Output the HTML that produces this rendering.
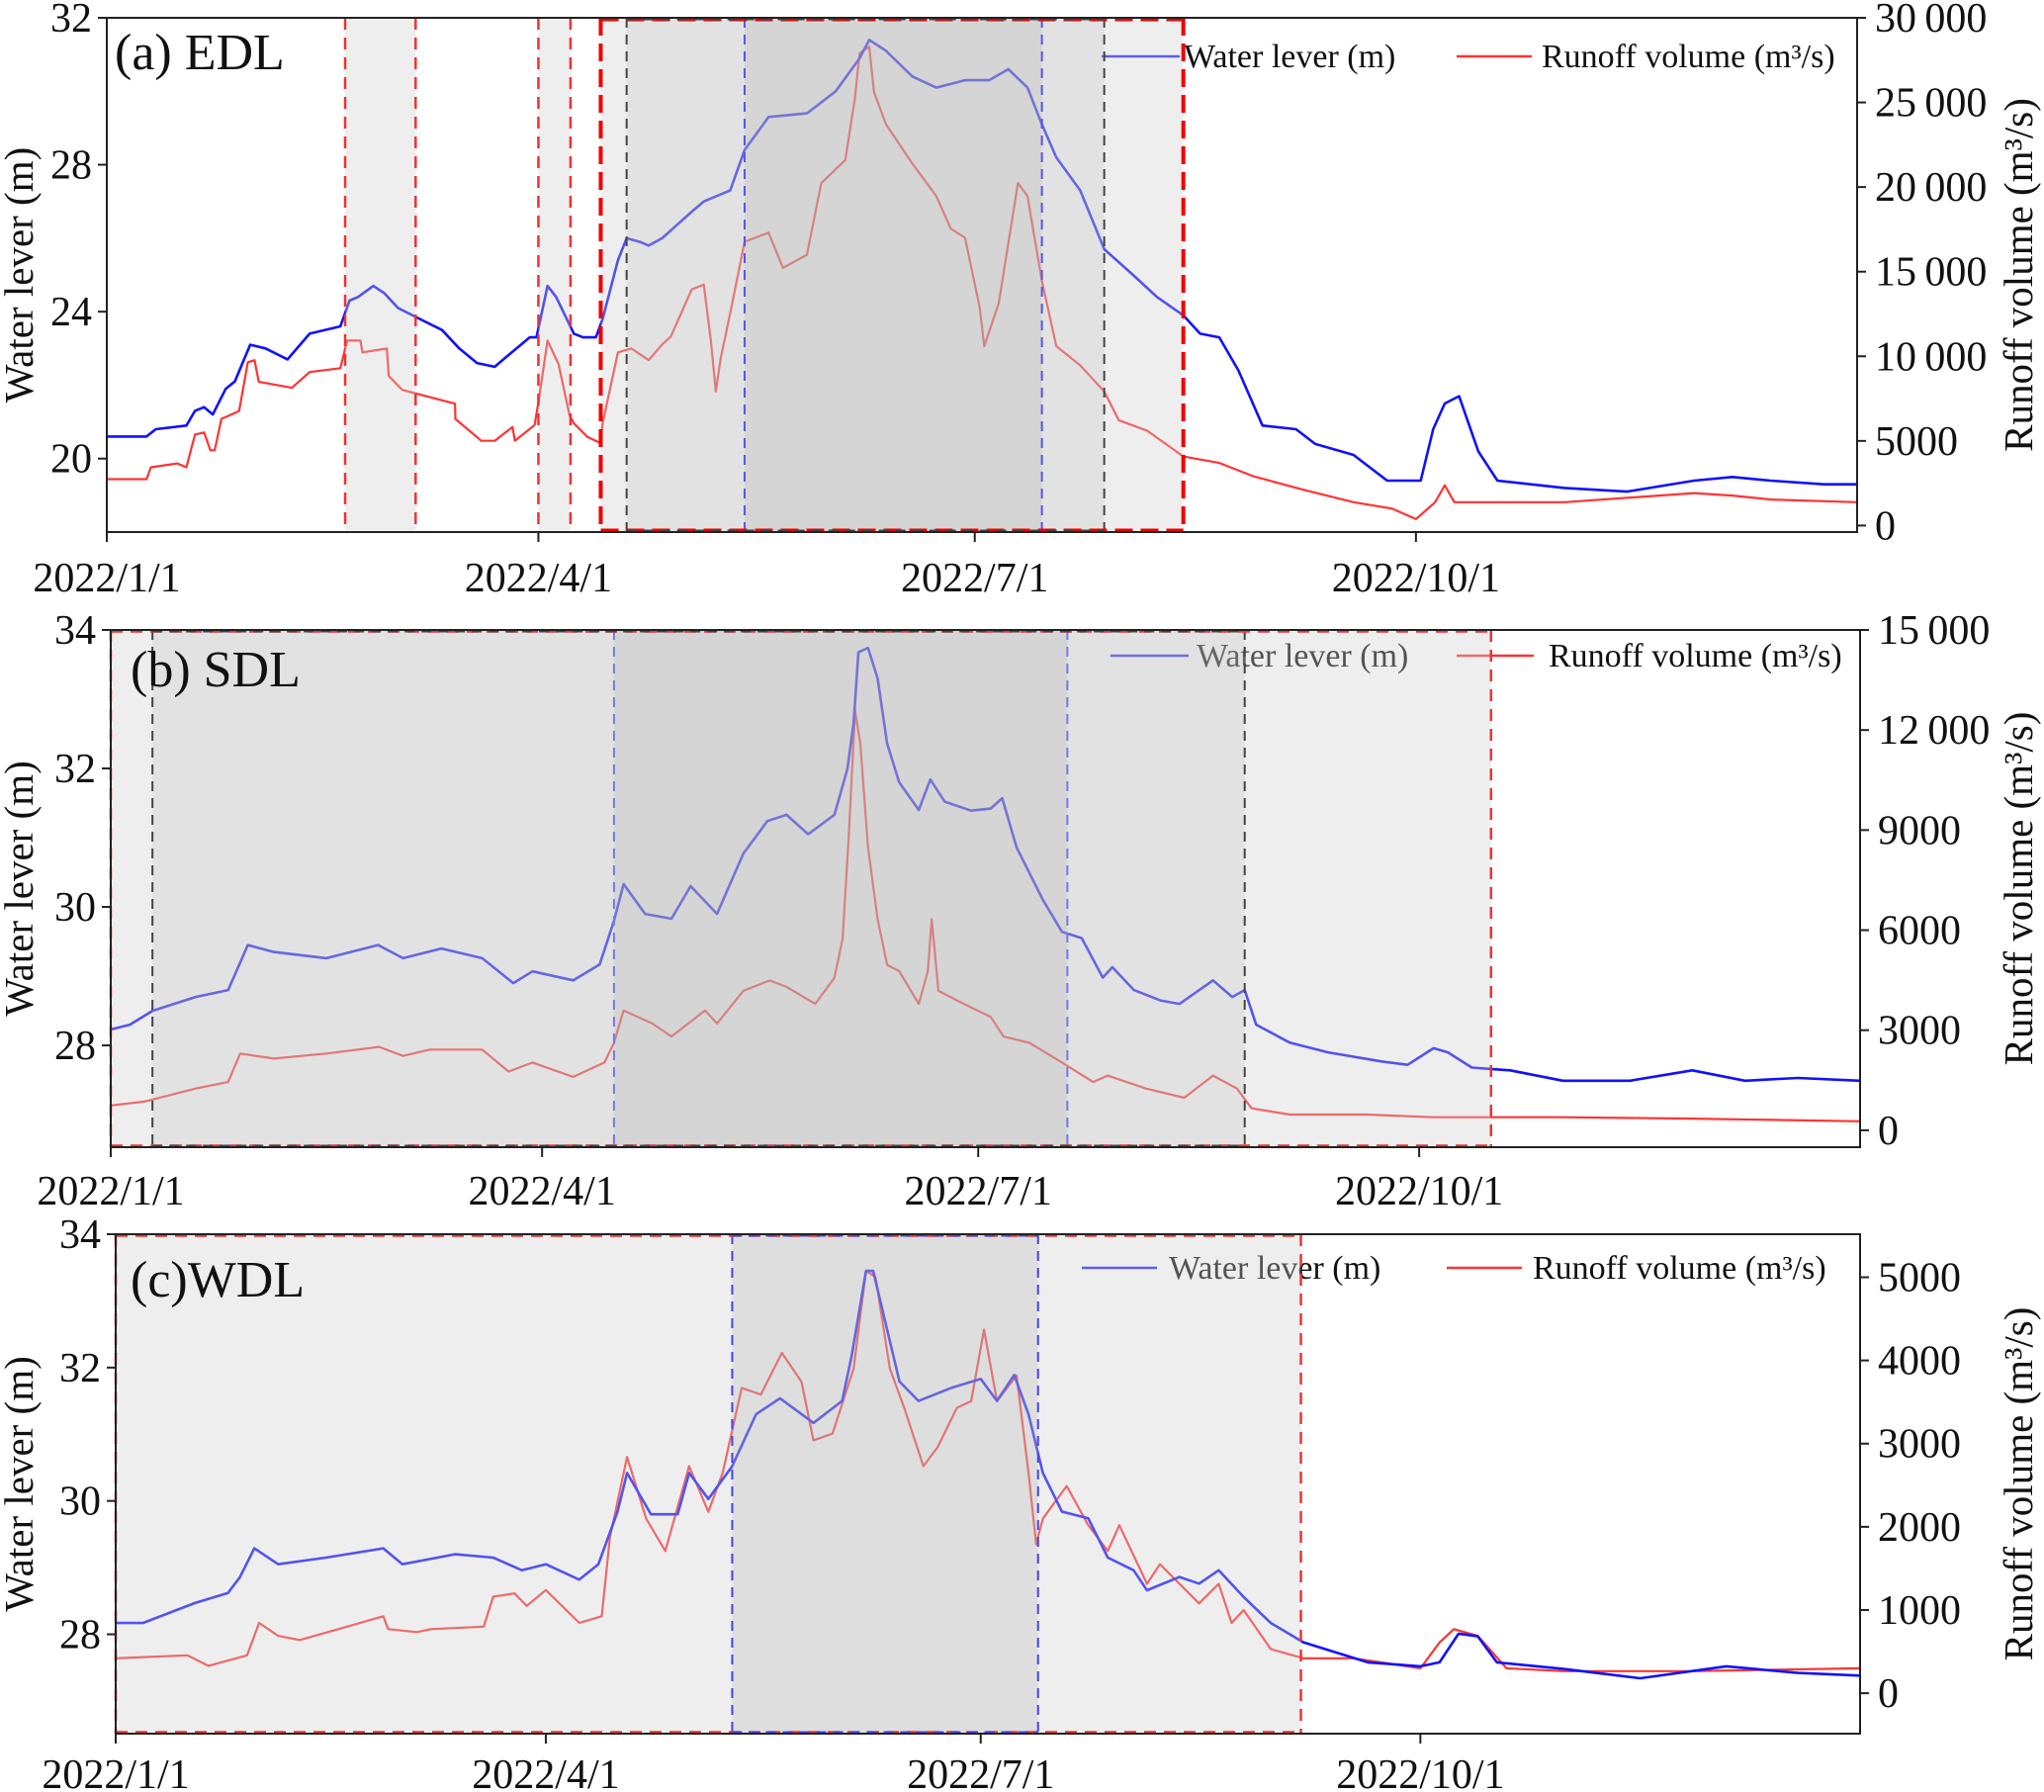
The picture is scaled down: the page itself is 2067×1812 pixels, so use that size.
<!DOCTYPE html>
<html><head><meta charset="utf-8">
<style>
html,body{margin:0;padding:0;background:#fff;}
svg{display:block;font-family:"Liberation Serif","DejaVu Serif",serif;}
</style></head>
<body>
<svg id="chart" width="2067" height="1812" viewBox="0 0 2067 1812" xmlns="http://www.w3.org/2000/svg"></svg>
<script>
// ---- Data: panel (a) EDL ----
const aLevelDays=[0,8.3,10.2,16.6,18.4,20.3,22.1,24.8,26.7,29.9,33.1,37.7,42.3,48.7,50.6,52.4,55.6,57.9,60.7,65.3,69.9,73.5,77.2,80.9,83.6,88.2,89.6,91.9,93.7,97.4,99.3,102,103.4,106.6,108.4,111.2,113,115.8,121.8,124.5,130,133,138,146,152,157,159,162.5,168,173,179,184,188,192,195,198,203,208,214,219,224.5,228,232,236,241,248,252,260,267,274,276.6,279,282,286,290,304,317,331,339,347,358,365];
const aLevel=[20.6,20.6,20.8,20.9,21.3,21.4,21.2,21.9,22.1,23.1,23.0,22.7,23.4,23.6,24.3,24.4,24.7,24.5,24.1,23.8,23.5,23.0,22.6,22.5,22.8,23.3,23.3,24.7,24.4,23.4,23.3,23.3,23.8,25.4,26.0,25.9,25.8,26.0,26.7,27.0,27.3,28.4,29.3,29.4,30.0,30.9,31.4,31.1,30.4,30.1,30.3,30.3,30.6,30.1,29.1,28.2,27.3,25.7,25.0,24.4,23.9,23.4,23.3,22.4,20.9,20.8,20.4,20.1,19.4,19.4,20.8,21.5,21.7,20.2,19.4,19.2,19.1,19.4,19.5,19.4,19.3,19.3];
const aRunDays=[0,8.3,9.2,14.7,16.6,18.4,20.3,21.6,22.5,23.9,27.6,29.4,30.8,31.7,38.6,42.3,48.7,50.1,52.9,53.3,58.4,58.8,61.6,66.2,72.6,72.7,78.1,80.9,84.6,85.1,89.2,90.1,91.9,94.2,96.5,97.4,100.2,102.9,103.4,106.6,109.4,113,115.8,117.6,122,124.5,126,127,128,130,133,138,141,146,149,154,156,157,159,160,162.5,168,171,173,176,179,180,182,183,186,190,192,195,198,203,208,211,217,224.5,232,239,249,260,268,273,277,279,281,287.5,304,331,339,347,365];
const aRunoff=[2740,2740,3440,3670,3440,5385,5500,4450,4450,6300,6770,9650,9770,8490,8140,9070,9300,10930,10930,10230,10460,8840,8020,7670,7200,6300,5010,5010,5820,5010,5940,7440,10930,9540,6510,6040,5240,4880,6040,10230,10460,9770,10700,11160,13960,14230,10850,7920,9850,12540,16770,17300,15230,16000,20230,21600,25230,27900,28300,25600,23700,21380,20230,19460,17540,17000,15600,12920,10600,13150,20230,19460,14460,10600,9460,7920,6230,5600,4080,3700,2920,2150,1380,1000,380,1380,2380,1380,1380,1380,1920,1770,1540,1380];
// ---- Data: panel (b) SDL ----
const bLevelDays=[0,4,8.7,17.7,24.5,28.6,34,45,55.8,61,69,77.5,84,88,96.5,102,105,107,111.5,117,121,126.5,132,137,141,145.5,151,153.7,155,156,158,160,162,164.5,168.6,171,174,179.5,183.6,186,189,194.5,198.5,202.6,207,209,213.5,219,223,230,234,236.6,239,246,254,265,270.6,276,279,284,292,303,317,330,341,352,365];
const bLevel=[28.23,28.3,28.5,28.7,28.8,29.45,29.35,29.26,29.45,29.26,29.4,29.26,28.9,29.07,28.94,29.17,29.8,30.33,29.9,29.83,30.3,29.9,30.77,31.24,31.33,31.05,31.33,31.99,32.65,33.68,33.74,33.3,32.36,31.8,31.4,31.84,31.52,31.39,31.42,31.57,30.86,30.1,29.64,29.55,28.98,29.13,28.8,28.65,28.6,28.94,28.7,28.8,28.3,28.04,27.9,27.77,27.72,27.96,27.9,27.68,27.64,27.49,27.49,27.64,27.49,27.53,27.49];
const bRunDays=[0,7,17.7,24.5,27,34,45,56,61,66.6,77.5,83,88,96.5,103,105,107,113,117,124,126.5,132,137.5,141,147,151,152.7,154,155.3,156.4,158,160,162,164.5,168.6,170.5,171.3,172.7,178,183.6,186.3,191.7,198.5,205,208,216,224,230,235,238,246,262,276,303,330,365];
const bRunoff=[742,860,1250,1445,2300,2150,2300,2500,2230,2420,2420,1760,2030,1600,2030,2620,3590,3200,2810,3590,3200,4180,4490,4300,3790,4570,5740,8870,12580,11600,8480,6330,4960,4770,3790,4770,6330,4180,3790,3400,2810,2620,2030,1445,1640,1250,975,1640,1250,660,470,470,390,390,350,270];
// ---- Data: panel (c) WDL ----
const cLevelDays=[0,5.7,16.6,23.5,26,29,34,44,56,60,71,79,85,90,97,101,105,107,112,117.6,120,124,129,134,139,146,152,154,157,158.5,164,168,175,181,184.4,188,191,194,198,203.5,207.6,213,215.8,222.6,226.7,230.8,236,241.7,248.5,262,273,277,281,285,289,303,319,337,352,365];
const cLevel=[28.17,28.17,28.47,28.62,28.86,29.29,29.05,29.15,29.29,29.05,29.2,29.15,28.96,29.05,28.82,29.05,29.84,30.42,29.8,29.8,30.42,30.03,30.52,31.3,31.54,31.17,31.5,32.18,33.45,33.45,31.79,31.5,31.7,31.83,31.5,31.89,31.3,30.42,29.84,29.74,29.15,28.96,28.66,28.86,28.76,28.96,28.56,28.17,27.88,27.58,27.52,27.58,28.01,27.97,27.58,27.48,27.34,27.52,27.42,27.38];
const cRunDays=[0,15,19.4,27.5,30,34,38.5,46.6,56,57,63,66,77,79,83.5,86,90,97,101.7,103.4,107,111,115,120,124,127,131,135,139.4,143.5,146,150,154.4,157,159,162,165,169,172,176,179,181.7,184.4,188.5,191,192.6,194,199,203.5,207.6,210,215.8,218.5,226.7,230.8,233.5,236,241.7,248.5,259,273,277,280,285,291,303,330,365];
const cRunoff=[420,455,330,455,845,690,640,770,925,770,735,770,800,1160,1200,1050,1240,845,925,1865,2840,2100,1710,2730,2180,2650,3670,3590,4090,3745,3040,3120,3900,5080,5000,3900,3430,2730,2960,3430,3510,4370,3510,3820,2650,1790,2100,2490,2020,1710,2020,1315,1550,1080,1315,845,1000,530,420,420,300,610,770,690,300,265,265,300];
// ---- Tick labels ----
const xTickDays=[0,90,181,273];
const xTickLabels=['2022/1/1','2022/4/1','2022/7/1','2022/10/1'];
const aLeftTicks=[20,24,28,32];
const aRightTicks=[0,5000,10000,15000,20000,25000,30000];
const aRightLabels=['0','5000','10\u2009000','15\u2009000','20\u2009000','25\u2009000','30\u2009000'];
const bLeftTicks=[28,30,32,34];
const bRightTicks=[0,3000,6000,9000,12000,15000];
const bRightLabels=['0','3000','6000','9000','12\u2009000','15\u2009000'];
const cLeftTicks=[28,30,32,34];
const cRightTicks=[0,1000,2000,3000,4000,5000];
const cRightLabels=['0','1000','2000','3000','4000','5000'];

const NS='http://www.w3.org/2000/svg';
const svg=document.getElementById('chart');
function mk(tag,attrs,parent){const e=document.createElementNS(NS,tag);for(const k in attrs)e.setAttribute(k,attrs[k]);(parent||svg).appendChild(e);return e;}

const panels=[
 {key:'a',L:108,R:1878,T:18,B:538,yl:[18,32],yr:[-385,30000],ld:aLevelDays,lv:aLevel,rd:aRunDays,rv:aRunoff,lt:aLeftTicks,rt:aRightTicks,rl:aRightLabels,label:'(a) EDL',lx:116,ly:70,xly:598,
  legY:57,leg:[1114,1193,1197,1473,1549,1559],
  regions:[[49.7,64.4,'l'],[90,96.7,'l'],[103,224.5,'l'],[108.4,208,'m'],[133,195,'d']],
  dashes:[[49.7,'#e33',2.5,'12,8',false],[64.4,'#e33',2.5,'12,8',false],[90,'#e33',2.5,'12,8',false],[96.7,'#e33',2.5,'12,8',false],[103,'#e00',4,'18,8',true],[224.5,'#e00',4,'18,8',true],[108.4,'#444',2,'10,7',true],[208,'#444',2,'10,7',true],[133,'#55e',2,'10,7',false],[195,'#55e',2,'10,7',false]]},
 {key:'b',L:112,R:1881,T:637,B:1160,yl:[26.53,34],yr:[-508,15000],ld:bLevelDays,lv:bLevel,rd:bRunDays,rv:bRunoff,lt:bLeftTicks,rt:bRightTicks,rl:bRightLabels,label:'(b) SDL',lx:132,ly:694,xly:1218,
  legY:663,leg:[1123,1202,1210,1473,1551,1566],
  regions:[[0,288,'l'],[8.7,236.6,'m'],[105,199.6,'d']],
  dashes:[[0,'#e33',2.5,'12,8',true],[288,'#e33',2.5,'12,8',true],[8.7,'#444',2,'10,7',true],[236.6,'#444',2,'10,7',true],[105,'#77e',2,'10,7',false],[199.6,'#77e',2,'10,7',false]]},
 {key:'c',L:117,R:1881,T:1248,B:1753,yl:[26.51,34],yr:[-486,5517],ld:cLevelDays,lv:cLevel,rd:cRunDays,rv:cRunoff,lt:cLeftTicks,rt:cRightTicks,rl:cRightLabels,label:'(c)WDL',lx:132,ly:1311,xly:1808,
  legY:1282,leg:[1094,1170,1182,1463,1539,1550],
  regions:[[0,248,'l'],[129,193,'d']],
  dashes:[[0,'#e33',2.5,'12,8',true],[248,'#e33',2.5,'12,8',true],[129,'#44e',2,'10,7',true],[193,'#44e',2,'10,7',true]]}
];

panels.forEach(p=>{
 const g=mk('g',{});
 
 
 const xs=d=>p.L+d/365*(p.R-p.L);
 const yL=v=>p.B-(v-p.yl[0])/(p.yl[1]-p.yl[0])*(p.B-p.T);
 const yR=v=>p.B-(v-p.yr[0])/(p.yr[1]-p.yr[0])*(p.B-p.T);
 const l1=mk('line',{x1:p.leg[0],x2:p.leg[1],y1:p.legY,y2:p.legY,stroke:'#22f','stroke-width':2.5},g);
 
 
 const t1=mk('text',{x:p.leg[2],y:p.legY+11,'font-size':34,fill:'#111'},g);t1.textContent='Water lever (m)';
 
 
 const l2=mk('line',{x1:p.leg[3],x2:p.leg[4],y1:p.legY,y2:p.legY,stroke:'#f33','stroke-width':2.5},g);
 
 
 const t2=mk('text',{x:p.leg[5],y:p.legY+11,'font-size':34,fill:'#111'},g);t2.textContent='Runoff volume (m³/s)';
 
 
 let ptsR=p.rd.map((d,i)=>xs(d).toFixed(1)+','+yR(p.rv[i]).toFixed(1)).join(' ');
 const rl=mk('polyline',{points:ptsR,fill:'none',stroke:'#f33','stroke-width':2.2,'stroke-linejoin':'round'},g);
 
 
 let ptsL=p.ld.map((d,i)=>xs(d).toFixed(1)+','+yL(p.lv[i]).toFixed(1)).join(' ');
 const bl=mk('polyline',{points:ptsL,fill:'none',stroke:'#11f','stroke-width':2.6,'stroke-linejoin':'round'},g);
 
 
 const fills={l:'rgba(205,205,205,0.35)',m:'rgba(180,180,180,0.2)',d:'rgba(170,170,170,0.22)'};
 p.regions.forEach(r=>{
  const re=mk('rect',{x:xs(r[0]),y:p.T,width:xs(r[1])-xs(r[0]),height:p.B-p.T,fill:fills[r[2]]},g);
  
  
 });
 p.dashes.forEach(d=>{
  const ln=mk('line',{x1:xs(d[0]),x2:xs(d[0]),y1:p.T,y2:p.B,stroke:d[1],'stroke-width':d[2],'stroke-dasharray':d[3]},g);
  
  
 });
 for(let i=0;i<p.dashes.length;i+=2){const a=p.dashes[i],b=p.dashes[i+1];if(a[4]){
  [p.T+1.5,p.B-1.5].forEach(yy=>{const h=mk('line',{x1:xs(a[0]),x2:xs(b[0]),y1:yy,y2:yy,stroke:a[1],'stroke-width':a[2],'stroke-dasharray':a[3]},g);
  
  });
 }}
 const fr=mk('rect',{x:p.L,y:p.T,width:p.R-p.L,height:p.B-p.T,fill:'none',stroke:'#222','stroke-width':2},g);
 
 
 xTickDays.forEach((d,i)=>{
  mk('line',{x1:xs(d),x2:xs(d),y1:p.B,y2:p.B+10,stroke:'#222','stroke-width':2},g);
  const t=mk('text',{x:xs(d),y:p.xly,'font-size':42,'text-anchor':'middle',fill:'#111'},g);t.textContent=xTickLabels[i];
  
  
 });
 p.lt.forEach(v=>{
  mk('line',{x1:p.L-9,x2:p.L,y1:yL(v),y2:yL(v),stroke:'#222','stroke-width':2},g);
  const t=mk('text',{x:p.L-15,y:yL(v)+14,'font-size':42,'text-anchor':'end',fill:'#111'},g);t.textContent=v;
  
  
 });
 p.rt.forEach((v,i)=>{
  mk('line',{x1:p.R,x2:p.R+9,y1:yR(v),y2:yR(v),stroke:'#222','stroke-width':2},g);
  const t=mk('text',{x:p.R+18,y:yR(v)+14,'font-size':42,fill:'#111'},g);t.textContent=p.rl[i];
  
  
 });
 const cy=(p.T+p.B)/2;
 const yt=mk('text',{x:0,y:0,'font-size':41,'text-anchor':'middle',fill:'#111',transform:`translate(33,${cy}) rotate(-90)`},g);yt.textContent='Water lever (m)';
 
 
 const rt=mk('text',{x:0,y:0,'font-size':41,'text-anchor':'middle',fill:'#111',transform:`translate(2055,${cy}) rotate(-90)`},g);rt.textContent='Runoff volume (m³/s)';
 
 
 const pl=mk('text',{x:p.lx,y:p.ly,'font-size':52,fill:'#111'},g);pl.textContent=p.label;
 
 
});
</script>
</body></html>
